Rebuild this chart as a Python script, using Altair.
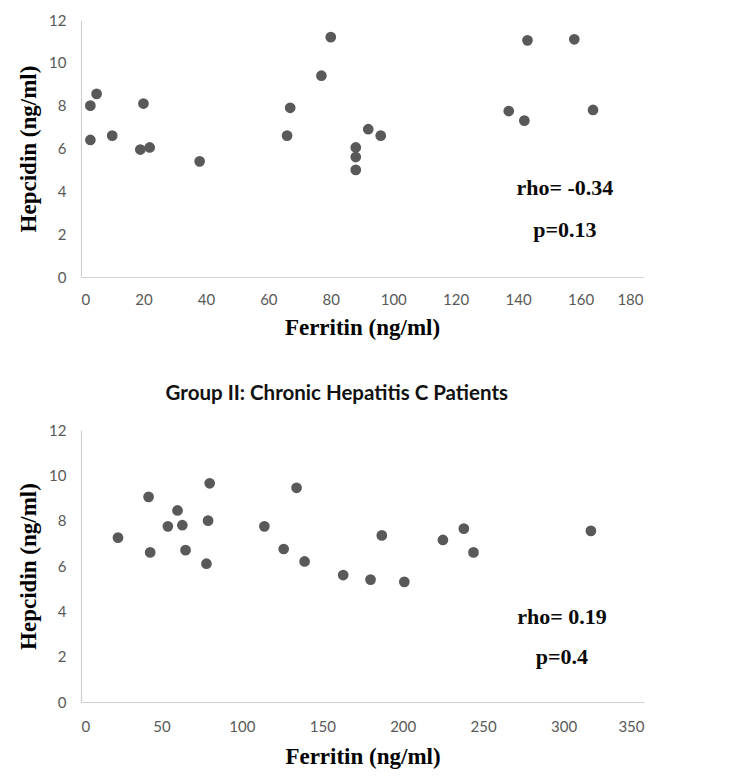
import altair as alt
import pandas as pd

# Group I (top panel)
ferritin_1 = [3, 3, 5, 10, 20, 19, 22, 38, 66, 67, 77, 80, 88, 88, 88, 92, 96, 143, 158, 137, 142, 164]
hepcidin_1 = [8.0, 6.4, 8.55, 6.6, 8.1, 5.95, 6.05, 5.4, 6.6, 7.9, 9.4, 11.2, 6.05, 5.6, 5.0, 6.9, 6.6, 11.05, 11.1, 7.75, 7.3, 7.8]

# Group II (bottom panel)
ferritin_2 = [23, 42, 43, 54, 60, 63, 65, 78, 79, 80, 114, 126, 134, 139, 163, 180, 187, 201, 225, 238, 244, 317]
hepcidin_2 = [7.25, 9.05, 6.6, 7.75, 8.45, 7.8, 6.7, 6.1, 8.0, 9.65, 7.75, 6.75, 9.45, 6.2, 5.6, 5.4, 7.35, 5.3, 7.15, 7.65, 6.6, 7.55]

stats_1 = ["rho= -0.34", "p=0.13"]
stats_1_x = [155, 155]
stats_1_y = [4.15, 2.2]

stats_2 = ["rho= 0.19", "p=0.4"]
stats_2_x = [299, 299]
stats_2_y = [3.75, 2.0]

x_ticks_1 = list(range(0, 181, 20))
x_ticks_2 = list(range(0, 351, 50))
y_ticks = list(range(0, 13, 2))

title_2 = "Group II: Chronic Hepatitis C Patients"

DOT = "#595959"
LABEL_FONT = "Lato"
TITLE_FONT = "Liberation Serif"


def panel(fx, hy, sx, sy, st, xmax, xticks, w, h, x_lp, x_tp, title=None):
    pts = pd.DataFrame({"Ferritin": fx, "Hepcidin": hy})
    txt = pd.DataFrame({"x": sx, "y": sy, "t": st})
    xax = alt.Axis(values=xticks, title="Ferritin (ng/ml)", labelPadding=x_lp, titlePadding=x_tp)
    yax = alt.Axis(values=y_ticks, title="Hepcidin (ng/ml)", labelPadding=15, titlePadding=8)
    xs = alt.Scale(domain=[0, xmax], nice=False, zero=True)
    ys = alt.Scale(domain=[0, 12], nice=False)
    p = alt.Chart(pts).mark_circle(size=115, color=DOT, opacity=1).encode(
        x=alt.X("Ferritin:Q", scale=xs, axis=xax),
        y=alt.Y("Hepcidin:Q", scale=ys, axis=yax),
    )
    t = alt.Chart(txt).mark_text(
        font=TITLE_FONT, fontWeight="bold", fontSize=22, color="#0a0a0a", align="center", baseline="middle"
    ).encode(
        x=alt.X("x:Q", scale=xs),
        y=alt.Y("y:Q", scale=ys),
        text="t:N",
    )
    ch = alt.layer(p, t).properties(width=w, height=h)
    if title:
        ch = ch.properties(
            title=alt.TitleParams(
                title, font=LABEL_FONT, fontSize=20.5, fontWeight="bold", color="#111111",
                anchor="middle", frame="bounds", offset=19, dx=6
            )
        )
    return ch


top = panel(ferritin_1, hepcidin_1, stats_1_x, stats_1_y, stats_1, 180, x_ticks_1, 562, 257, 15, 9)
bottom = panel(ferritin_2, hepcidin_2, stats_2_x, stats_2_y, stats_2, 350, x_ticks_2, 563, 272, 17, 11, title_2)

chart = alt.vconcat(top, bottom, spacing=44).properties(
    padding={"left": 9, "top": 5, "right": 5, "bottom": 5}
).configure(background="white").configure_view(
    stroke=None
).configure_axis(
    grid=False,
    ticks=False,
    domainColor="#d0d0d0",
    domainWidth=1.2,
    labelFont=LABEL_FONT,
    labelFontSize=15,
    labelColor="#595959",
    titleFont=TITLE_FONT,
    titleFontSize=23,
    titleFontWeight="bold",
    titleColor="#000000",
)

chart.save("out.html", embed_options={"renderer": "svg", "actions": False})
